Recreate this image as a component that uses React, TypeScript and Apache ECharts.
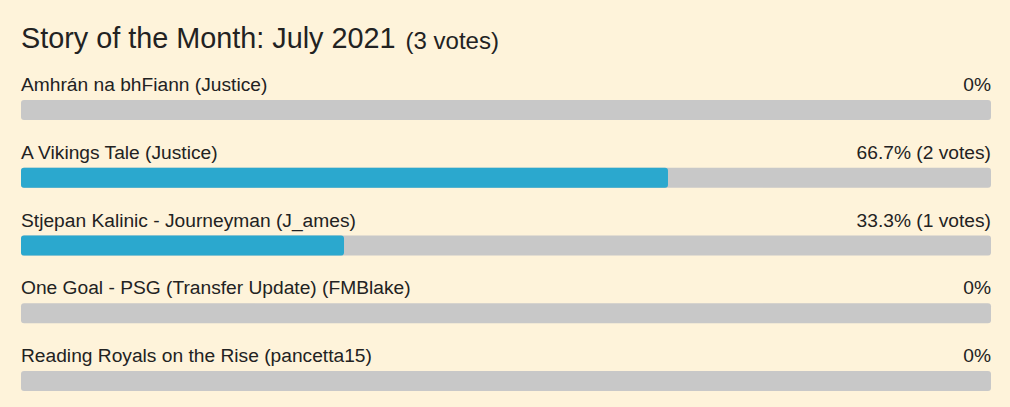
import React, { useEffect, useRef } from "react";
import * as echarts from "echarts";

const titleText = "Story of the Month: July 2021";
const totalVotesText = "(3 votes)";
const options = [
  "Amhrán na bhFiann (Justice)",
  "A Vikings Tale (Justice)",
  "Stjepan Kalinic - Journeyman (J_ames)",
  "One Goal - PSG (Transfer Update) (FMBlake)",
  "Reading Royals on the Rise (pancetta15)",
];
const percents = [0, 66.7, 33.3, 0, 0];
const votes = [0, 2, 1, 0, 0];
const fullScale = [100, 100, 100, 100, 100];

const BG = "#FEF3DA";
const TRACK = "#C8C8C8";
const FILL = "#2BA8CE";
const TEXT = "#222222";
const FONT = "'Liberation Sans', Arial, sans-serif";

export default function App() {
  const ref = useRef<HTMLDivElement>(null);
  useEffect(() => {
    document.body.style.margin = "0";
    document.body.style.background = BG;
    const chart = echarts.init(ref.current!, null, { renderer: "svg" });
    const pctLabel = (i: number) =>
      percents[i] === 0 ? "0%" : `${percents[i]}% (${votes[i]} votes)`;
    chart.setOption({
      animation: false,
      backgroundColor: BG,
      textStyle: { fontFamily: FONT },
      title: {
        left: 21,
        top: 20,
        padding: 0,
        text: `{a|${titleText}} {b|${totalVotesText}}`,
        textStyle: {
          fontWeight: "normal",
          rich: {
            a: { fontSize: 28.8, color: TEXT, fontFamily: FONT, fontWeight: "normal", verticalAlign: "bottom", lineHeight: 32 },
            b: { fontSize: 24, color: TEXT, fontFamily: FONT, fontWeight: "normal", verticalAlign: "bottom", lineHeight: 30, padding: [0, 0, 0, 5] },
          },
        },
      },
      grid: { left: 21, right: 19, top: 110, bottom: 26 },
      xAxis: { type: "value", min: 0, max: 100, show: false },
      yAxis: {
        type: "category",
        data: options,
        inverse: true,
        boundaryGap: false,
        show: false,
      },
      series: [
        {
          type: "bar",
          data: fullScale,
          barWidth: 20,
          barGap: "-100%",
          itemStyle: { color: TRACK, borderRadius: 3 },
          silent: true,
          label: {
            show: true,
            position: [0, -6],
            align: "left",
            verticalAlign: "bottom",
            formatter: (p: any) => options[p.dataIndex],
            fontSize: 19.2,
            color: TEXT,
            fontFamily: FONT,
          },
        },
        {
          type: "bar",
          data: percents,
          barWidth: 20,
          barGap: "-100%",
          itemStyle: { color: FILL, borderRadius: 3 },
          silent: true,
        },
        {
          type: "bar",
          data: fullScale,
          barWidth: 20,
          barGap: "-100%",
          itemStyle: { color: "rgba(0,0,0,0)" },
          silent: true,
          label: {
            show: true,
            position: ["100%", -6],
            align: "right",
            verticalAlign: "bottom",
            formatter: (p: any) => pctLabel(p.dataIndex),
            fontSize: 19.2,
            color: TEXT,
            fontFamily: FONT,
          },
        },
      ],
    });
    return () => chart.dispose();
  }, []);
  return <div ref={ref} style={{ width: 1010, height: 407 }} />;
}
